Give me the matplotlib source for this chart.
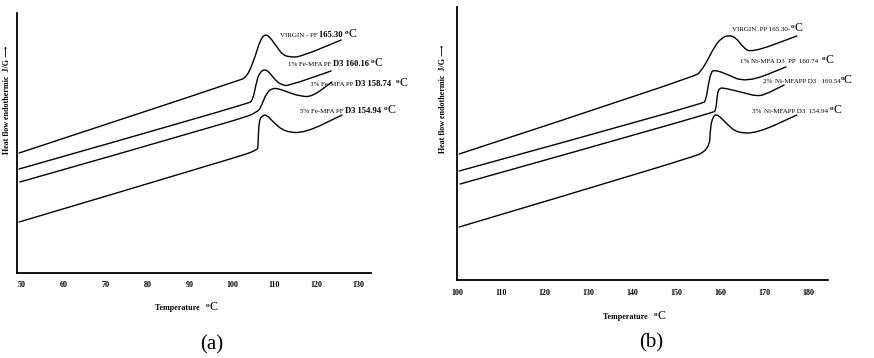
import matplotlib
matplotlib.use("Agg")
import matplotlib.pyplot as plt
from matplotlib.offsetbox import TextArea, HPacker, AnnotationBbox
from matplotlib.path import Path
from matplotlib.patches import PathPatch

SERIF = ['Liberation Serif', 'DejaVu Serif', 'DejaVu Sans']
plt.rcParams['font.family'] = SERIF

# ---------------- data: panel (a) Fe-MFA ----------------
a_virgin_x = [49.3, 101.4, 103.6, 105.5, 106.7, 107.9, 109.0, 110.7, 112.1, 113.8, 116.2, 126.0]
a_virgin_y = [12.0, 19.2, 19.6, 21.6, 23.3, 23.9, 23.6, 22.6, 21.8, 21.6, 21.6, 23.3]
a_fe1_x = [49.3, 103.8, 105.0, 105.9, 106.7, 107.9, 109.0, 110.7, 112.1, 113.3, 123.6]
a_fe1_y = [10.4, 16.9, 17.3, 19.3, 20.1, 20.4, 20.0, 19.1, 18.8, 18.7, 20.2]
a_fe3_x = [49.5, 101.4, 106.2, 107.1, 108.1, 109.5, 111.4, 113.8, 116.2, 119.0, 123.8]
a_fe3_y = [9.1, 15.3, 16.1, 16.8, 17.9, 18.5, 18.4, 18.0, 17.7, 17.6, 19.1]
a_fe5_x = [49.3, 101.4, 106.0, 106.2, 106.4, 107.4, 108.3, 109.8, 112.6, 117.4, 126.2]
a_fe5_y = [5.1, 11.6, 12.3, 12.6, 15.3, 15.8, 15.8, 15.1, 14.1, 14.0, 15.8]
a_ticks = [50, 60, 70, 80, 90, 100, 110, 120, 130]

# ---------------- data: panel (b) Ni-MFA ----------------
b_virgin_x = [100.5, 154.1, 155.6, 157.1, 158.6, 160.2, 162.0, 163.6, 165.1, 167.0, 177.4]
b_virgin_y = [12.6, 20.3, 20.9, 22.0, 23.3, 24.2, 24.5, 24.2, 23.3, 22.7, 24.4]
b_ni1_x = [100.5, 156.0, 156.7, 157.3, 157.9, 158.6, 160.9, 165.8, 174.9]
b_ni1_y = [10.9, 17.6, 18.0, 19.7, 20.8, 21.0, 20.7, 19.7, 21.3]
b_ni2_x = [100.7, 158.3, 159.0, 159.3, 159.8, 160.9, 165.5, 168.1, 170.0, 174.5]
b_ni2_y = [9.6, 16.7, 17.0, 18.7, 19.2, 19.2, 18.7, 18.4, 18.5, 19.5]
b_ni3_x = [100.5, 152.6, 157.5, 157.7, 158.3, 159.0, 160.2, 161.7, 163.9, 168.5, 177.4]
b_ni3_y = [5.3, 12.1, 13.0, 15.3, 16.3, 16.6, 16.2, 15.5, 14.7, 14.7, 16.5]
b_ticks = [100, 110, 120, 130, 140, 150, 160, 170, 180]

# labels: (small prefix pieces, bold value, anchor position)
a_labels = [
    (["VIRGIN - PF "], "165.30 ", (111.4, 23.9)),
    (["1% ", "Fe-MFA PF "], "D3 160.16 ", (113.3, 21.0)),
    (["3% ", "Fe-MFA ", "PP "], "D3 158.74  ", (118.6, 19.0)),
    (["5% ", "Fe-MFA ", "PF "], "D3 154.94 ", (116.2, 16.3)),
]
b_labels = [
    (["VIRGIN .PP 165.30-"], "", (162.7, 25.2)),
    (["1% ", "Ni-MFA D3  PP  160.74  "], "", (164.5, 22.0)),
    (["2% ", "Ni-MFAPP D3   160.54"], "", (169.8, 20.0)),
    (["3% ", "Ni-MFAPP D3  154.94 "], "", (167.3, 17.0)),
]

fig = plt.figure(figsize=(8.74, 3.58), dpi=100)
axa = fig.add_axes([17/874, 1-273/358, (371-17)/874, (273-13)/358])
axb = fig.add_axes([457/874, 1-280/358, (828-457)/874, (280-7)/358])


def style(ax, xlim, ylim, ticks, pad):
    ax.set_xlim(*xlim)
    ax.set_ylim(*ylim)
    for s in ['top', 'right']:
        ax.spines[s].set_visible(False)
    for s in ['left', 'bottom']:
        ax.spines[s].set_linewidth(1.3)
    ax.set_yticks([])
    ax.set_xticks(ticks)
    ax.set_xticklabels([str(t) for t in ticks], fontsize=5.8, fontweight='bold')
    ax.tick_params(axis='x', length=0, pad=pad)
    ax.patch.set_alpha(0)


style(axa, (48.8, 133.1), (0, 26.0), a_ticks, 5.5)
style(axb, (100.2, 184.5), (0, 27.3), b_ticks, 6.5)


def smooth_curve(ax, xs, ys):
    """Draw a curve with the data points as quadratic Bezier control points."""
    pts = list(zip(xs, ys))
    verts = [pts[0]]
    codes = [Path.MOVETO]
    for i in range(1, len(pts) - 1):
        mid = ((pts[i][0] + pts[i + 1][0]) / 2, (pts[i][1] + pts[i + 1][1]) / 2)
        verts += [pts[i], mid]
        codes += [Path.CURVE3, Path.CURVE3]
    verts.append(pts[-1])
    codes.append(Path.LINETO)
    patch = PathPatch(Path(verts, codes), facecolor='none', edgecolor='black',
                      lw=1.0, joinstyle='round', capstyle='round')
    ax.add_patch(patch)


for xs, ys in [(a_virgin_x, a_virgin_y), (a_fe1_x, a_fe1_y), (a_fe3_x, a_fe3_y), (a_fe5_x, a_fe5_y)]:
    smooth_curve(axa, xs, ys)
for xs, ys in [(b_virgin_x, b_virgin_y), (b_ni1_x, b_ni1_y), (b_ni2_x, b_ni2_y), (b_ni3_x, b_ni3_y)]:
    smooth_curve(axb, xs, ys)


def label(ax, smalls, value, pos):
    children = []
    for s in smalls:
        children.append(TextArea(s, textprops=dict(fontsize=5.0, family=SERIF)))
    if value:
        children.append(TextArea(value, textprops=dict(fontsize=6.2, fontweight='bold', family=SERIF)))
    children.append(TextArea("⁰", textprops=dict(fontsize=6.0, fontweight='bold', family=SERIF)))
    children.append(TextArea("C", textprops=dict(fontsize=8.5, family=SERIF)))
    box = HPacker(children=children, align='baseline', pad=0, sep=0)
    ab = AnnotationBbox(box, pos, xycoords='data', box_alignment=(0, 0.5),
                        frameon=False, pad=0, annotation_clip=False)
    ax.add_artist(ab)


for smalls, value, pos in a_labels:
    label(axa, smalls, value, pos)
for smalls, value, pos in b_labels:
    label(axb, smalls, value, pos)

# axis labels
ylab = "Heat flow endothermic  J/G \u27f6"
fig.text(7/874, 1-100/358, ylab, rotation=90, ha='center', va='center',
         fontsize=5.8, fontweight='bold', family=SERIF)
fig.text(443/874, 1-99/358, ylab, rotation=90, ha='center', va='center',
         fontsize=5.8, fontweight='bold', family=SERIF)


def xlab(x, y):
    children = [TextArea("Temperature   ", textprops=dict(fontsize=5.8, fontweight='bold', family=SERIF)),
                TextArea("⁰", textprops=dict(fontsize=6.0, fontweight='bold', family=SERIF)),
                TextArea("C", textprops=dict(fontsize=8.5, family=SERIF))]
    box = HPacker(children=children, align='baseline', pad=0, sep=0)
    ab = AnnotationBbox(box, (x/874, 1-y/358), xycoords='figure fraction',
                        box_alignment=(0.5, 0.5), frameon=False, pad=0, annotation_clip=False)
    fig.add_artist(ab)


xlab(186, 307)
xlab(634, 316)

fig.text(212/874, 1-345/358, "(a)", ha='center', va='center', fontsize=15, family=SERIF)
fig.text(651/874, 1-343/358, "(b)", ha='center', va='center', fontsize=15, family=SERIF)

fig.savefig("out.png", dpi=100)
